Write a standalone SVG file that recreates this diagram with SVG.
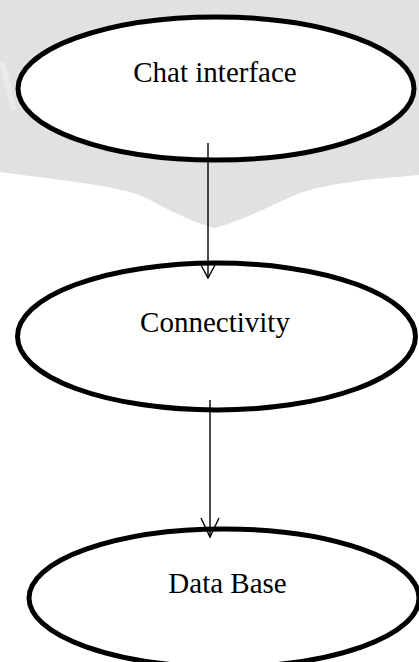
<svg xmlns="http://www.w3.org/2000/svg" width="419" height="662" viewBox="0 0 419 662">
  <style>
    .node ellipse { fill: #ffffff; stroke: #000000; stroke-width: 5; }
    .node text { font-family: "Liberation Serif", "Times New Roman", serif; font-size: 29px; fill: #000000; text-anchor: middle; }
    .conn { fill: none; stroke: #000000; stroke-width: 1.4; }
  </style>
  <rect width="419" height="662" fill="#ffffff"/>
  <g id="watermark">
    <path d="M0 0 H419 V175 C390 178 340 180 300 193 C275 203 250 218 215 228 C190 222 160 205 140 195 C110 185 60 180 0 172 Z" fill="#e1e1e1"/>
    <path d="M2 62 L14 110" stroke="#eaeaea" stroke-width="6" fill="none"/>
  </g>
  <g id="node-chat" class="node">
    <ellipse cx="216" cy="88.5" rx="198" ry="71.5"/>
    <text x="215" y="82">Chat interface</text>
  </g>
  <g id="node-connectivity" class="node">
    <ellipse cx="216.5" cy="336.5" rx="199" ry="73.5"/>
    <text x="215" y="332">Connectivity</text>
  </g>
  <g id="node-database" class="node">
    <ellipse cx="224" cy="598" rx="195" ry="69"/>
    <text x="227.5" y="593">Data Base</text>
  </g>
  <g id="connectors">
    <path class="conn" d="M208 143 V278"/>
    <path class="conn" d="M201 265 L208 278 L215 265"/>
    <path class="conn" d="M210 400 V537"/>
    <path class="conn" d="M201 518 L210 537 L219 518"/>
  </g>
</svg>
